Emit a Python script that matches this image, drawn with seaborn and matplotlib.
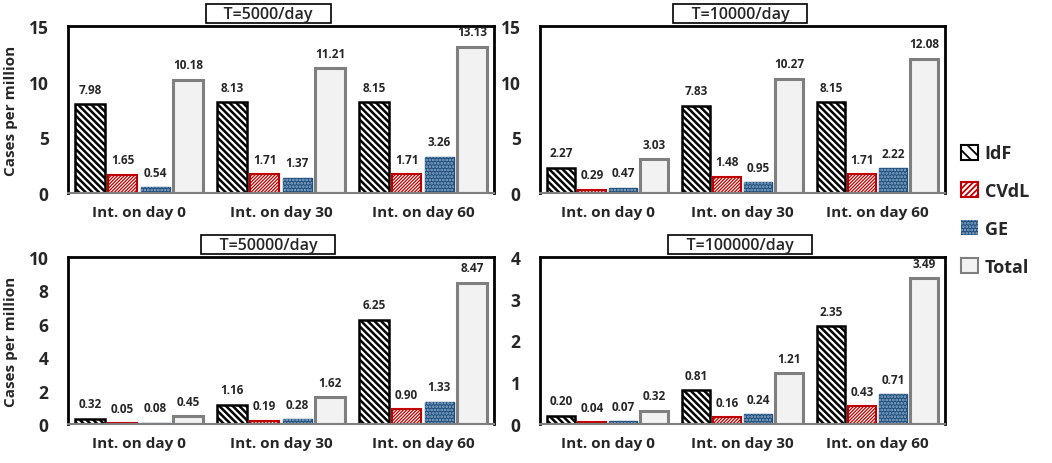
import numpy as np
import pandas as pd
import matplotlib.pyplot as plt
import matplotlib.patches as mpatches
import seaborn as sns

# values
days = ['Int. on day 0', 'Int. on day 30', 'Int. on day 60']
regions = ['IdF', 'CVdL', 'GE', 'Total']
titles = ['T=5000/day', 'T=10000/day', 'T=50000/day', 'T=100000/day']
ylims = [15, 15, 10, 4]
ysteps = [5, 5, 2, 1]

idf = [[7.98, 8.13, 8.15], [2.27, 7.83, 8.15], [0.32, 1.16, 6.25], [0.20, 0.81, 2.35]]
cvdl = [[1.65, 1.71, 1.71], [0.29, 1.48, 1.71], [0.05, 0.19, 0.90], [0.04, 0.16, 0.43]]
ge = [[0.54, 1.37, 3.26], [0.47, 0.95, 2.22], [0.08, 0.28, 1.33], [0.07, 0.24, 0.71]]
total = [[10.18, 11.21, 13.13], [3.03, 10.27, 12.08], [0.45, 1.62, 8.47], [0.32, 1.21, 3.49]]

rows = []
for i, t in enumerate(titles):
    for name, vals in zip(regions, [idf, cvdl, ge, total]):
        for d, v in zip(days, vals[i]):
            rows.append({'T': t, 'day': d, 'region': name, 'cases': v})
df = pd.DataFrame(rows)

sns.set_theme(style='white')
plt.rcParams['font.family'] = ['Open Sans', 'DejaVu Sans']
plt.rcParams['font.weight'] = 'bold'
plt.rcParams['hatch.linewidth'] = 1.3

styles = {
    'IdF': dict(face='white', edge='black', hatch='\\' * 5, lw=1.8, hlw=1.8),
    'CVdL': dict(face='white', edge='#c00000', hatch='/' * 10, lw=1.5, hlw=0.9),
    'GE': dict(face='#1f4e79', edge='#1f4e79', hatch=None, lw=1.0, hlw=1.0),
    'Total': dict(face='#f2f2f2', edge='#7f7f7f', hatch=None, lw=2.2, hlw=1.0),
}
txt = '#262626'

fig = plt.figure(figsize=(10.52, 4.64), dpi=100)
W, H = 1052, 464
boxes = [(68, 27, 494, 194), (540, 27, 945, 194), (68, 258, 494, 425), (540, 258, 945, 425)]

for i, t in enumerate(titles):
    x0, y0, x1, y1 = boxes[i]
    ax = fig.add_axes([x0 / W, 1 - y1 / H, (x1 - x0) / W, (y1 - y0) / H])
    sub = df[df['T'] == t]
    sns.barplot(data=sub, x='day', y='cases', hue='region', hue_order=regions,
                order=days, width=0.92, gap=0.1, legend=False, ax=ax, errorbar=None)
    for name, cont in zip(regions, ax.containers):
        st = styles[name]
        for p in cont:
            p.set_facecolor(st['face'])
            p.set_edgecolor(st['edge'])
            p.set_linewidth(st['lw'])
            if st['hatch']:
                p.set_hatch(st['hatch'])
                if hasattr(p, 'set_hatch_linewidth'):
                    p.set_hatch_linewidth(st['hlw'])
            if name == 'GE':
                # white speckle on top of the dark blue bars
                ax.add_patch(mpatches.Rectangle(p.get_xy(), p.get_width(), p.get_height(),
                                                facecolor='none', edgecolor='#8fb0d4',
                                                linewidth=0, hatch='.....', zorder=p.get_zorder() + 0.1))
        ax.bar_label(cont, fmt='%.2f', padding=6, fontsize=8.5, fontweight='bold', color=txt)

    ax.set_xlim(-0.5, 2.5)
    ax.set_ylim(0, ylims[i])
    ax.set_yticks(np.arange(0, ylims[i] + 0.01, ysteps[i]))
    ax.tick_params(axis='y', length=0, pad=14, labelsize=12.5)
    ax.tick_params(axis='x', length=0, pad=9, labelsize=11)
    for lab in ax.get_xticklabels() + ax.get_yticklabels():
        lab.set_fontweight('bold')
        lab.set_color(txt)
    ax.set_xlabel('')
    if i % 2 == 0:
        ax.set_ylabel('Cases per million', fontsize=11, fontweight='bold', color=txt, labelpad=8)
        tx = 0.47
    else:
        ax.set_ylabel('')
        tx = 0.494
    for s in ['top', 'left', 'right']:
        ax.spines[s].set_color('black')
        ax.spines[s].set_linewidth(2)
    ax.spines['bottom'].set_color('#7f7f7f')
    ax.spines['bottom'].set_linewidth(1.5)
    ax.set_title('    ' + t + '    ', fontsize=11.5, fontweight='semibold', pad=6, color=txt, x=tx,
                 bbox=dict(boxstyle='square,pad=0.1', facecolor='white', edgecolor='black', linewidth=1.2))

handles = [mpatches.Patch(facecolor=styles[r]['face'], edgecolor=styles[r]['edge'],
                          hatch=styles[r]['hatch'], linewidth=1.5, label=r) for r in regions]
handles[0].set_hatch('\\\\\\')
handles[1].set_hatch('//////')
handles[2] = mpatches.Patch(facecolor='#1f4e79', edgecolor='#8fb0d4', hatch='.....', linewidth=0, label='GE')
fig.legend(handles=handles, loc='center left', bbox_to_anchor=(945 / W, 0.545), frameon=False,
           handlelength=0.9, handleheight=0.9, handletextpad=0.4, labelspacing=1.1,
           prop={'weight': 'bold', 'size': 13})

fig.savefig('out.png', dpi=100)
